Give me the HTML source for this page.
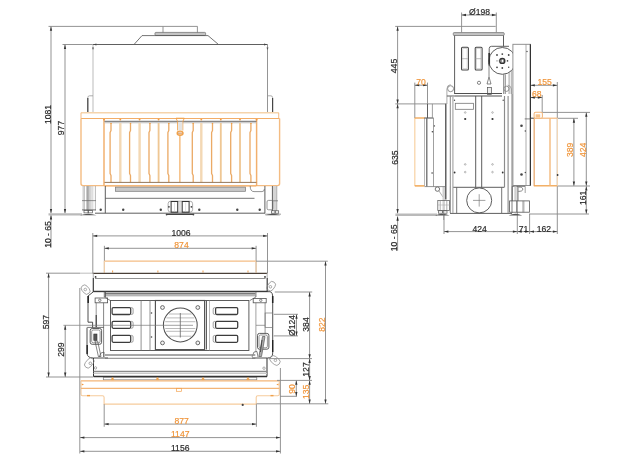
<!DOCTYPE html>
<html><head><meta charset="utf-8"><style>
html,body{margin:0;padding:0;background:#fff;}
svg{display:block;}
text{font-family:"Liberation Sans",sans-serif;}
svg{will-change:transform;}
</style></head><body>
<svg width="624" height="460" viewBox="0 0 624 460">
<rect width="624" height="460" fill="#fff"/>
<line x1="48.5" y1="26.4" x2="197.5" y2="26.4" stroke="#8a8a8a" stroke-width="0.92" />
<line x1="51" y1="26.4" x2="51" y2="213.3" stroke="#8a8a8a" stroke-width="0.92" />
<polygon points="51,26.4 49.85,30.799999999999997 52.15,30.799999999999997" fill="#333"/>
<polygon points="51,213.3 49.85,208.9 52.15,208.9" fill="#333"/>
<line x1="51" y1="215" x2="51" y2="247.7" stroke="#8a8a8a" stroke-width="0.92" />
<polygon points="51,215 49.85,219.4 52.15,219.4" fill="#2a2a2a"/>
<text x="0" y="0" transform="translate(47.6,114.5) rotate(-90) scale(1,1.07)" fill="#2a2a2a" stroke="#2a2a2a" stroke-width="0.18" font-size="8.6" text-anchor="middle" dominant-baseline="central">1081</text>
<line x1="62.5" y1="44.5" x2="93" y2="44.5" stroke="#8a8a8a" stroke-width="0.92" />
<line x1="65" y1="44.5" x2="65" y2="213.3" stroke="#8a8a8a" stroke-width="0.92" />
<polygon points="65,44.5 63.85,48.9 66.15,48.9" fill="#333"/>
<polygon points="65,213.3 63.85,208.9 66.15,208.9" fill="#333"/>
<text x="0" y="0" transform="translate(61.2,128) rotate(-90) scale(1,1.07)" fill="#2a2a2a" stroke="#2a2a2a" stroke-width="0.18" font-size="8.6" text-anchor="middle" dominant-baseline="central">977</text>
<text x="0" y="0" transform="translate(48,234.5) rotate(-90) scale(1,1.07)" fill="#2a2a2a" stroke="#2a2a2a" stroke-width="0.18" font-size="8.6" text-anchor="middle" dominant-baseline="central">10 - 65</text>
<line x1="163" y1="26.4" x2="163" y2="33" stroke="#8a8a8a" stroke-width="0.92" />
<line x1="197.4" y1="26.4" x2="197.4" y2="33" stroke="#8a8a8a" stroke-width="0.92" />
<rect x="155" y="32.4" width="50.6" height="3.1" stroke="#777" stroke-width="0.80" fill="#c4c4c4" rx="0.8"/>
<polyline points="134,44.5 142,35.6 208,35.6 218.5,44.5" stroke="#505050" stroke-width="0.80" fill="none" stroke-linejoin="round"/>
<line x1="93" y1="44.5" x2="93" y2="112.5" stroke="#c4c4c4" stroke-width="1.15" />
<line x1="267.5" y1="44.5" x2="267.5" y2="112.5" stroke="#959595" stroke-width="1.03" />
<line x1="93" y1="44.5" x2="267.5" y2="44.5" stroke="#606060" stroke-width="1.03" />
<polygon points="93.4,44.5 96.4,43.4 96.4,45.6" fill="#444"/>
<polygon points="267.1,44.5 264.1,43.4 264.1,45.6" fill="#444"/>
<polygon points="93,50 92,47.5 94,47.5" fill="#555"/>
<polygon points="267.5,50 266.5,47.5 268.5,47.5" fill="#555"/>
<path d="M93,95.8 H89.6 Q87.8,95.8 87.8,97.6 V112.5" stroke="#999" stroke-width="0.8" fill="none"/>
<line x1="87.8" y1="98" x2="87.8" y2="112.5" stroke="#444" stroke-width="1.15" />
<path d="M267.5,95.8 H270.8 Q272.6,95.8 272.6,97.6 V112.5" stroke="#999" stroke-width="0.8" fill="none"/>
<line x1="272.6" y1="98" x2="272.6" y2="112.5" stroke="#444" stroke-width="1.15" />
<line x1="81" y1="112.8" x2="278.7" y2="112.8" stroke="#f5d4ac" stroke-width="1.61" />
<line x1="81" y1="112.8" x2="81" y2="118.6" stroke="#f5be88" stroke-width="1.03" />
<line x1="278.7" y1="112.8" x2="278.7" y2="118.6" stroke="#f5be88" stroke-width="1.03" />
<line x1="81" y1="118.5" x2="279.6" y2="118.5" stroke="#f2ad68" stroke-width="1.15" />
<path d="M81,118.6 V183.5 Q81,185.6 83,185.6 H104.0" stroke="#f4bc82" stroke-width="1.4" fill="none"/>
<path d="M279.6,118.6 V183.5 Q279.6,185.6 277.6,185.6 H256.6" stroke="#f4bc82" stroke-width="1.4" fill="none"/>
<line x1="104.0" y1="118.6" x2="104.0" y2="186" stroke="#f2b06e" stroke-width="1.49" />
<line x1="256.6" y1="118.6" x2="256.6" y2="186" stroke="#f2b06e" stroke-width="1.49" />
<line x1="104.5" y1="121.3" x2="256.4" y2="121.3" stroke="#5a5a5a" stroke-width="0.92" />
<line x1="104.5" y1="122.7" x2="256.4" y2="122.7" stroke="#bdbdbd" stroke-width="1.03" />
<polyline points="111.0,123 111.0,130.5 110.1,132.5 110.1,173.5 111.0,175.5 111.0,182.3" stroke="#ebaa66" stroke-width="1.32" fill="none" stroke-linejoin="round"/>
<polyline points="130.5,123 130.5,130.5 129.6,132.5 129.6,173.5 130.5,175.5 130.5,182.3" stroke="#ebaa66" stroke-width="1.32" fill="none" stroke-linejoin="round"/>
<polyline points="149.9,123 149.9,130.5 149.0,132.5 149.0,173.5 149.9,175.5 149.9,182.3" stroke="#ebaa66" stroke-width="1.32" fill="none" stroke-linejoin="round"/>
<polyline points="168.8,123 168.8,130.5 167.9,132.5 167.9,173.5 168.8,175.5 168.8,182.3" stroke="#ebaa66" stroke-width="1.32" fill="none" stroke-linejoin="round"/>
<polyline points="193.20000000000002,123 193.20000000000002,130.5 192.3,132.5 192.3,173.5 193.20000000000002,175.5 193.20000000000002,182.3" stroke="#ebaa66" stroke-width="1.32" fill="none" stroke-linejoin="round"/>
<polyline points="212.5,123 212.5,130.5 211.6,132.5 211.6,173.5 212.5,175.5 212.5,182.3" stroke="#ebaa66" stroke-width="1.32" fill="none" stroke-linejoin="round"/>
<polyline points="231.6,123 231.6,130.5 230.7,132.5 230.7,173.5 231.6,175.5 231.6,182.3" stroke="#ebaa66" stroke-width="1.32" fill="none" stroke-linejoin="round"/>
<polyline points="250.9,123 250.9,130.5 250.0,132.5 250.0,173.5 250.9,175.5 250.9,182.3" stroke="#ebaa66" stroke-width="1.32" fill="none" stroke-linejoin="round"/>
<rect x="119.1" y="123" width="2.4" height="59.3" stroke="none" stroke-width="0.00" fill="#f3d8b4" rx="0"/>
<rect x="138.4" y="123" width="2.4" height="59.3" stroke="none" stroke-width="0.00" fill="#f3d8b4" rx="0"/>
<rect x="200.10000000000002" y="123" width="2.4" height="59.3" stroke="none" stroke-width="0.00" fill="#f3d8b4" rx="0"/>
<line x1="158.6" y1="123" x2="158.6" y2="182.3" stroke="#efc794" stroke-width="1.84" />
<line x1="220.8" y1="123" x2="220.8" y2="182.3" stroke="#efc794" stroke-width="1.84" />
<line x1="240.0" y1="123" x2="240.0" y2="182.3" stroke="#efc794" stroke-width="1.84" />
<circle cx="120.3" cy="119.6" r="0.95" fill="#f39a40"/>
<circle cx="139.6" cy="119.6" r="0.95" fill="#f39a40"/>
<circle cx="158.6" cy="119.6" r="0.95" fill="#f39a40"/>
<circle cx="201.3" cy="119.6" r="0.95" fill="#f39a40"/>
<circle cx="220.8" cy="119.6" r="0.95" fill="#f39a40"/>
<circle cx="240.0" cy="119.6" r="0.95" fill="#f39a40"/>
<circle cx="104.0" cy="119.6" r="0.95" fill="#f39a40"/>
<circle cx="256.6" cy="119.6" r="0.95" fill="#f39a40"/>
<circle cx="111.0" cy="123.4" r="0.7" fill="#f0a048"/>
<circle cx="130.5" cy="123.4" r="0.7" fill="#f0a048"/>
<circle cx="149.9" cy="123.4" r="0.7" fill="#f0a048"/>
<circle cx="168.8" cy="123.4" r="0.7" fill="#f0a048"/>
<circle cx="193.20000000000002" cy="123.4" r="0.7" fill="#f0a048"/>
<circle cx="212.5" cy="123.4" r="0.7" fill="#f0a048"/>
<circle cx="231.6" cy="123.4" r="0.7" fill="#f0a048"/>
<circle cx="250.9" cy="123.4" r="0.7" fill="#f0a048"/>
<line x1="179.9" y1="135" x2="179.9" y2="182.3" stroke="#f0a048" stroke-width="1.03" />
<path d="M176,118.2 L184.3,118.2 L182.8,121.5 L182.8,130.5 M176,118.2 L177.6,121.5 L177.6,130.5" stroke="#f0a048" stroke-width="0.9" fill="none"/>
<rect x="178.2" y="121.8" width="4.2" height="8.5" fill="#e4e4e4"/>
<ellipse cx="180.1" cy="133.2" rx="2.9" ry="2.1" stroke="#f0a048" stroke-width="1.4" fill="#fbe3c8"/>
<line x1="178" y1="133.2" x2="182.2" y2="133.2" stroke="#c08050" stroke-width="0.69" />
<line x1="104.5" y1="182.4" x2="256.4" y2="182.4" stroke="#8a6a4a" stroke-width="0.92" />
<line x1="104.4" y1="185.9" x2="256.4" y2="185.9" stroke="#f3a24f" stroke-width="1.15" />
<rect x="115.4" y="187.1" width="130.2" height="4.2" stroke="#777" stroke-width="0.69" fill="#c8c8c8" rx="0"/>
<line x1="105.3" y1="186" x2="105.3" y2="213.2" stroke="#505050" stroke-width="0.92" />
<line x1="264.9" y1="186" x2="264.9" y2="213.2" stroke="#505050" stroke-width="0.92" />
<line x1="105.3" y1="198.3" x2="254.5" y2="198.3" stroke="#505050" stroke-width="0.80" />
<line x1="95" y1="213.2" x2="265" y2="213.2" stroke="#505050" stroke-width="0.92" />
<line x1="48.5" y1="214.4" x2="82" y2="214.4" stroke="#bababa" stroke-width="2.30" />
<line x1="265" y1="214.2" x2="281" y2="214.2" stroke="#aaa" stroke-width="1.15" />
<circle cx="100.7" cy="209.7" r="1.2" fill="#444"/>
<circle cx="123.2" cy="209.7" r="1.2" fill="#444"/>
<circle cx="160.8" cy="209.7" r="1.2" fill="#444"/>
<circle cx="199.3" cy="209.7" r="1.2" fill="#444"/>
<circle cx="237.3" cy="209.7" r="1.2" fill="#444"/>
<circle cx="259.7" cy="209.7" r="1.2" fill="#444"/>
<rect x="168.1" y="201.2" width="24.5" height="11" stroke="#999" stroke-width="0.80" fill="none" rx="2.5"/>
<rect x="171.1" y="201.5" width="6.6" height="10.7" stroke="#333" stroke-width="1.03" fill="none" rx="0"/>
<rect x="182.2" y="201.5" width="6.9" height="10.7" stroke="#333" stroke-width="1.03" fill="none" rx="0"/>
<line x1="179" y1="201.5" x2="179" y2="212.2" stroke="#aaa" stroke-width="0.69" />
<line x1="181" y1="201.5" x2="181" y2="212.2" stroke="#aaa" stroke-width="0.69" />
<line x1="174.5" y1="202.5" x2="174.5" y2="211.5" stroke="#ccc" stroke-width="0.57" />
<line x1="185.6" y1="202.5" x2="185.6" y2="211.5" stroke="#ccc" stroke-width="0.57" />
<circle cx="168.9" cy="206.8" r="0.9" fill="#444"/>
<circle cx="191.4" cy="206.8" r="0.9" fill="#444"/>
<line x1="166" y1="214.4" x2="194" y2="214.4" stroke="#444" stroke-width="1.15" />
<circle cx="166.6" cy="214.6" r="0.9" fill="#444"/>
<circle cx="193.4" cy="214.6" r="0.9" fill="#444"/>
<rect x="86.9" y="186" width="1.8" height="24.5" stroke="none" stroke-width="0.00" fill="#cfcfcf" rx="0"/>
<line x1="83.1" y1="186" x2="83.1" y2="210.5" stroke="#aaa" stroke-width="0.69" />
<line x1="84.3" y1="186" x2="84.3" y2="210.5" stroke="#999" stroke-width="0.69" />
<line x1="86.9" y1="186" x2="86.9" y2="210.5" stroke="#888" stroke-width="0.69" />
<line x1="88.1" y1="186" x2="88.1" y2="210.5" stroke="#777" stroke-width="0.69" />
<line x1="89.8" y1="186" x2="89.8" y2="210.5" stroke="#999" stroke-width="0.69" />
<line x1="91.0" y1="186" x2="91.0" y2="210.5" stroke="#aaa" stroke-width="0.69" />
<line x1="92.8" y1="186" x2="92.8" y2="210.5" stroke="#bbb" stroke-width="0.69" />
<line x1="95.4" y1="186" x2="95.4" y2="210.5" stroke="#999" stroke-width="0.69" />
<line x1="82" y1="200.6" x2="96" y2="200.6" stroke="#666" stroke-width="0.69" />
<line x1="82" y1="209.9" x2="96" y2="209.9" stroke="#555" stroke-width="0.80" />
<rect x="84" y="210.5" width="4" height="2.4" stroke="#555" stroke-width="0.69" fill="none" rx="0"/>
<rect x="88.6" y="210.5" width="4" height="2.4" stroke="#555" stroke-width="0.69" fill="none" rx="0"/>
<path d="M80,215.3 Q88,212 96.5,215.3 Z" fill="#555"/>
<path d="M250.2,186 Q250.2,191.6 254,191.6 H262 Q264.4,191.6 264.4,189" stroke="#666" stroke-width="0.7" fill="none"/>
<rect x="272.4" y="186" width="4.4" height="25" stroke="none" stroke-width="0.00" fill="#d4d4d4" rx="0"/>
<line x1="272.4" y1="186" x2="272.4" y2="211" stroke="#555" stroke-width="0.92" />
<line x1="276.8" y1="186" x2="276.8" y2="211" stroke="#999" stroke-width="0.69" />
<line x1="272" y1="200.8" x2="278" y2="200.8" stroke="#666" stroke-width="0.69" />
<rect x="267" y="200.4" width="5.8" height="9.4" stroke="#666" stroke-width="0.69" fill="none" rx="1.5"/>
<rect x="271.5" y="210.8" width="3.5" height="2.4" stroke="#555" stroke-width="0.69" fill="none" rx="0"/>
<rect x="275.2" y="210.8" width="3.5" height="2.4" stroke="#555" stroke-width="0.69" fill="none" rx="0"/>
<path d="M265,215.3 Q272.6,212 280.3,215.3 Z" fill="#555"/>
<line x1="92.8" y1="233" x2="92.8" y2="273.3" stroke="#8a8a8a" stroke-width="0.92" />
<line x1="267.5" y1="233" x2="267.5" y2="273.3" stroke="#8a8a8a" stroke-width="0.92" />
<line x1="92.8" y1="235.9" x2="267.5" y2="235.9" stroke="#8a8a8a" stroke-width="0.92" />
<polygon points="92.8,235.9 97.2,234.75 97.2,237.05" fill="#333"/>
<polygon points="267.5,235.9 263.1,234.75 263.1,237.05" fill="#333"/>
<text x="0" y="0" transform="translate(181,232.6) scale(1,1.07)" fill="#2a2a2a" stroke="#2a2a2a" stroke-width="0.18" font-size="8.6" text-anchor="middle" dominant-baseline="central">1006</text>
<line x1="104.4" y1="245.8" x2="104.4" y2="272" stroke="#8a8a8a" stroke-width="0.92" />
<line x1="256.1" y1="245.8" x2="256.1" y2="272" stroke="#8a8a8a" stroke-width="0.92" />
<line x1="104.4" y1="248.3" x2="256.1" y2="248.3" stroke="#8a8a8a" stroke-width="0.92" />
<polygon points="104.4,248.3 108.80000000000001,247.15 108.80000000000001,249.45000000000002" fill="#333"/>
<polygon points="256.1,248.3 251.70000000000002,247.15 251.70000000000002,249.45000000000002" fill="#333"/>
<text x="0" y="0" transform="translate(181.5,244.5) scale(1,1.07)" fill="#f0953a" stroke="#f0953a" stroke-width="0.18" font-size="8.6" text-anchor="middle" dominant-baseline="central">874</text>
<line x1="104.3" y1="261.1" x2="256.1" y2="261.1" stroke="#f4bd85" stroke-width="1.15" />
<line x1="104.3" y1="261.1" x2="104.3" y2="273" stroke="#f8d4ac" stroke-width="1.15" />
<line x1="256.1" y1="261.1" x2="256.1" y2="273" stroke="#f8d4ac" stroke-width="1.15" />
<line x1="112.6" y1="270.5" x2="112.6" y2="272.5" stroke="#f3a24f" stroke-width="1.03" />
<line x1="157.9" y1="270.5" x2="157.9" y2="272.5" stroke="#f3a24f" stroke-width="1.03" />
<line x1="203" y1="270.5" x2="203" y2="272.5" stroke="#f3a24f" stroke-width="1.03" />
<line x1="248" y1="270.5" x2="248" y2="272.5" stroke="#f3a24f" stroke-width="1.03" />
<line x1="256.1" y1="261.2" x2="327.8" y2="261.2" stroke="#8a8a8a" stroke-width="0.92" />
<line x1="80" y1="273.2" x2="93" y2="273.2" stroke="#b8b8b8" stroke-width="0.92" />
<line x1="46" y1="273.2" x2="80" y2="273.2" stroke="#8a8a8a" stroke-width="0.92" />
<line x1="92.8" y1="273.4" x2="267.3" y2="273.4" stroke="#4a4038" stroke-width="1.15" />
<line x1="95" y1="278.5" x2="265.5" y2="278.5" stroke="#888" stroke-width="0.92" />
<circle cx="95.6" cy="276.9" r="0.9" fill="#333"/>
<circle cx="265" cy="276.9" r="0.9" fill="#333"/>
<line x1="93.3" y1="273.4" x2="93.3" y2="278" stroke="#bbb" stroke-width="1.15" />
<line x1="93.3" y1="278" x2="93.3" y2="292" stroke="#333" stroke-width="1.15" />
<line x1="267.2" y1="273.4" x2="267.2" y2="278" stroke="#bbb" stroke-width="1.15" />
<line x1="267.2" y1="278" x2="267.2" y2="292" stroke="#333" stroke-width="1.15" />
<line x1="93.5" y1="291.4" x2="267" y2="291.4" stroke="#3a3a3a" stroke-width="1.26" />
<line x1="105" y1="293.2" x2="255.3" y2="293.2" stroke="#7a7a7a" stroke-width="1.38" />
<line x1="105" y1="294.7" x2="255.3" y2="294.7" stroke="#b4b4b4" stroke-width="1.26" />
<line x1="105" y1="295.8" x2="255.3" y2="295.8" stroke="#888" stroke-width="0.80" />
<path d="M93.5,291.7 H105.4 M93.5,291.7 L88,296 V322.2 H92.6 V327.6 M87,327.6 V353.5 Q87.5,358 93.3,358 H108" stroke="#3a3a3a" stroke-width="0.9" fill="none"/>
<line x1="105.4" y1="291.7" x2="105.4" y2="297" stroke="#555" stroke-width="0.92" />
<line x1="88.2" y1="296" x2="88.2" y2="303" stroke="#222" stroke-width="1.49" />
<line x1="87.2" y1="345" x2="87.2" y2="354" stroke="#222" stroke-width="1.38" />
<line x1="104.3" y1="291.7" x2="104.3" y2="297" stroke="#505050" stroke-width="0.80" />
<line x1="104.3" y1="297" x2="110.3" y2="300.5" stroke="#505050" stroke-width="0.69" />
<rect x="95.1" y="298" width="12.5" height="4.8" stroke="#505050" stroke-width="0.80" fill="none" rx="0"/>
<circle cx="99.8" cy="300.3" r="1.2" stroke="#505050" stroke-width="0.69" fill="none"/>
<line x1="96.2" y1="302.8" x2="96.2" y2="327.4" stroke="#666" stroke-width="0.69" />
<line x1="96.2" y1="315" x2="96.2" y2="327" stroke="#333" stroke-width="1.03" />
<line x1="103.6" y1="302.8" x2="103.6" y2="357" stroke="#666" stroke-width="0.80" />
<line x1="87.2" y1="327.4" x2="103.8" y2="327.4" stroke="#505050" stroke-width="0.80" />
<rect x="90.2" y="328.5" width="11.4" height="15.8" stroke="#505050" stroke-width="0.92" fill="none" rx="2"/>
<rect x="91.7" y="330" width="8.4" height="12.8" stroke="#666" stroke-width="0.69" fill="none" rx="1.5"/>
<rect x="93.8" y="334" width="3.2" height="6.5" stroke="#333" stroke-width="0.57" fill="#555" rx="0"/>
<polygon points="95,341 97.6,341 101,356.5 98.4,356.5" stroke="#505050" stroke-width="0.69" fill="none" stroke-linejoin="round"/>
<polyline points="99,357 101,353 104,352 104,357" stroke="#505050" stroke-width="0.69" fill="none" stroke-linejoin="round"/>
<line x1="93.5" y1="358" x2="93.5" y2="376.5" stroke="#333" stroke-width="1.03" />
<circle cx="95.5" cy="367.9" r="1.2" stroke="#888" stroke-width="0.69" fill="none"/>
<g transform="translate(85.6,289.6) rotate(-40)"><rect x="-3.3" y="-5" width="6.6" height="10" rx="3.3" stroke="#888" stroke-width="0.7" fill="none"/></g>
<circle cx="85.3" cy="289.5" r="1.3" stroke="#888" stroke-width="0.69" fill="none"/>
<g transform="translate(89.3,363) rotate(40)"><rect x="-3.3" y="-5.5" width="6.6" height="11" rx="3.3" stroke="#888" stroke-width="0.7" fill="none"/></g>
<circle cx="90.3" cy="363.3" r="1.3" stroke="#888" stroke-width="0.69" fill="none"/>
<path d="M267.3,291.7 H255.9 M267.3,291.7 H270 Q272.7,292 272.7,297.4 V353 Q272.7,358 267.5,358 H252" stroke="#3a3a3a" stroke-width="0.9" fill="none"/>
<line x1="272.7" y1="296" x2="272.7" y2="303" stroke="#222" stroke-width="1.49" />
<line x1="272.7" y1="340" x2="272.7" y2="352" stroke="#222" stroke-width="1.38" />
<line x1="255.9" y1="291.7" x2="255.9" y2="297" stroke="#505050" stroke-width="0.80" />
<line x1="255.9" y1="297" x2="249.9" y2="300.5" stroke="#505050" stroke-width="0.69" />
<rect x="253.2" y="298.5" width="13" height="4.3" stroke="#505050" stroke-width="0.80" fill="none" rx="0"/>
<circle cx="260.8" cy="300.3" r="1.2" stroke="#505050" stroke-width="0.69" fill="none"/>
<line x1="255.9" y1="302.8" x2="255.9" y2="352" stroke="#777" stroke-width="0.69" />
<line x1="265.1" y1="302.8" x2="265.1" y2="333.4" stroke="#666" stroke-width="0.69" />
<rect x="265.1" y="313" width="7.6" height="14.4" stroke="#777" stroke-width="0.69" fill="none" rx="0"/>
<line x1="256" y1="325.3" x2="265" y2="325.3" stroke="#777" stroke-width="0.69" />
<rect x="257.5" y="333.4" width="11.4" height="15.8" stroke="#505050" stroke-width="0.92" fill="none" rx="2"/>
<rect x="259" y="335" width="8.4" height="12.8" stroke="#666" stroke-width="0.69" fill="none" rx="1.5"/>
<polygon points="262.5,336.5 265,336.5 261.5,356.5 258.9,356.5" stroke="#555" stroke-width="0.69" fill="#b0b0b0" stroke-linejoin="round"/>
<line x1="262" y1="340" x2="260.5" y2="352" stroke="#444" stroke-width="0.92" />
<polyline points="252,357 254,352 257,351.5 258,357" stroke="#505050" stroke-width="0.69" fill="none" stroke-linejoin="round"/>
<line x1="267" y1="358" x2="267" y2="376.5" stroke="#333" stroke-width="1.03" />
<circle cx="264" cy="368.2" r="1.2" stroke="#888" stroke-width="0.69" fill="none"/>
<g transform="translate(271.2,286.2) rotate(35)"><rect x="-3.3" y="-5" width="6.6" height="10" rx="3.3" stroke="#888" stroke-width="0.7" fill="none"/></g>
<circle cx="270.4" cy="286.8" r="1.3" stroke="#888" stroke-width="0.69" fill="none"/>
<g transform="translate(275,360.5) rotate(-50)"><rect x="-3.5" y="-5.5" width="7" height="11" rx="3.5" stroke="#888" stroke-width="0.7" fill="none"/></g>
<circle cx="275.4" cy="360.3" r="1.3" stroke="#888" stroke-width="0.69" fill="none"/>
<rect x="110.5" y="300.5" width="138.4" height="50" stroke="#505050" stroke-width="0.92" fill="none" rx="0"/>
<rect x="112.1" y="307.6" width="18.6" height="6.9" stroke="#3c3c3c" stroke-width="1.26" fill="none" rx="1.2"/>
<path d="M130.7,307.6 H131.6 Q133.1,307.6 133.1,309.1 V313.0 Q133.1,314.5 131.6,314.5 H130.7" stroke="#888" stroke-width="0.8" fill="none"/>
<rect x="215.6" y="307.6" width="22.1" height="6.9" stroke="#3c3c3c" stroke-width="1.26" fill="none" rx="1.2"/>
<path d="M215.6,307.6 H214.7 Q213.2,307.6 213.2,309.1 V313.0 Q213.2,314.5 214.7,314.5 H215.6" stroke="#888" stroke-width="0.8" fill="none"/>
<rect x="112.1" y="321.4" width="18.6" height="6.9" stroke="#3c3c3c" stroke-width="1.26" fill="none" rx="1.2"/>
<path d="M130.7,321.4 H131.6 Q133.1,321.4 133.1,322.9 V326.79999999999995 Q133.1,328.29999999999995 131.6,328.29999999999995 H130.7" stroke="#888" stroke-width="0.8" fill="none"/>
<rect x="215.6" y="321.4" width="22.1" height="6.9" stroke="#3c3c3c" stroke-width="1.26" fill="none" rx="1.2"/>
<path d="M215.6,321.4 H214.7 Q213.2,321.4 213.2,322.9 V326.79999999999995 Q213.2,328.29999999999995 214.7,328.29999999999995 H215.6" stroke="#888" stroke-width="0.8" fill="none"/>
<rect x="112.1" y="335.4" width="18.6" height="6.9" stroke="#3c3c3c" stroke-width="1.26" fill="none" rx="1.2"/>
<path d="M130.7,335.4 H131.6 Q133.1,335.4 133.1,336.9 V340.79999999999995 Q133.1,342.29999999999995 131.6,342.29999999999995 H130.7" stroke="#888" stroke-width="0.8" fill="none"/>
<rect x="215.6" y="335.4" width="22.1" height="6.9" stroke="#3c3c3c" stroke-width="1.26" fill="none" rx="1.2"/>
<path d="M215.6,335.4 H214.7 Q213.2,335.4 213.2,336.9 V340.79999999999995 Q213.2,342.29999999999995 214.7,342.29999999999995 H215.6" stroke="#888" stroke-width="0.8" fill="none"/>
<line x1="141.1" y1="300.5" x2="141.1" y2="350.5" stroke="#777" stroke-width="0.80" />
<line x1="150" y1="300.5" x2="150" y2="350.5" stroke="#777" stroke-width="0.80" />
<circle cx="151.5" cy="313" r="0.8" fill="#444"/>
<circle cx="151.5" cy="337" r="0.8" fill="#444"/>
<rect x="155.4" y="300.5" width="49.2" height="49.1" stroke="#505050" stroke-width="1.15" fill="none" rx="0"/>
<line x1="206.4" y1="300.5" x2="206.4" y2="349.6" stroke="#505050" stroke-width="1.03" />
<line x1="209.5" y1="300.5" x2="209.5" y2="350.5" stroke="#999" stroke-width="0.69" />
<circle cx="180.3" cy="325" r="16.9" stroke="#505050" stroke-width="1.03" fill="none"/>
<line x1="168.96995713179416" y1="314" x2="191.63004286820586" y2="314" stroke="#aaa" stroke-width="0.80" />
<line x1="166.46376838985537" y1="317.9" x2="194.13623161014465" y2="317.9" stroke="#aaa" stroke-width="0.80" />
<line x1="165.2253205159195" y1="321.7" x2="195.37467948408053" y2="321.7" stroke="#aaa" stroke-width="0.80" />
<line x1="165.2663978516477" y1="328.5" x2="195.33360214835233" y2="328.5" stroke="#aaa" stroke-width="0.80" />
<line x1="166.1181633728699" y1="331.3" x2="194.48183662713012" y2="331.3" stroke="#aaa" stroke-width="0.80" />
<line x1="169.1441713033085" y1="336.2" x2="191.45582869669153" y2="336.2" stroke="#aaa" stroke-width="0.80" />
<line x1="180.3" y1="313" x2="180.3" y2="337.5" stroke="#666" stroke-width="0.80" />
<circle cx="162.5" cy="307.5" r="1.9" stroke="#555" stroke-width="0.86" fill="#f4f4f4"/>
<circle cx="197.8" cy="307.5" r="1.9" stroke="#555" stroke-width="0.86" fill="#f4f4f4"/>
<circle cx="162.5" cy="342.9" r="1.9" stroke="#555" stroke-width="0.86" fill="#f4f4f4"/>
<circle cx="197.8" cy="342.9" r="1.9" stroke="#555" stroke-width="0.86" fill="#f4f4f4"/>
<line x1="63.4" y1="325.3" x2="193" y2="325.3" stroke="#777" stroke-width="0.69" />
<line x1="105" y1="355.0" x2="255.3" y2="355.0" stroke="#8a8a8a" stroke-width="1.61" />
<line x1="105" y1="358.3" x2="255.3" y2="358.3" stroke="#777" stroke-width="0.92" />
<line x1="93.5" y1="371.6" x2="267" y2="371.6" stroke="#8a8a8a" stroke-width="1.49" />
<line x1="93.5" y1="373.4" x2="267" y2="373.4" stroke="#c8c8c8" stroke-width="1.03" />
<line x1="93.5" y1="376.5" x2="267" y2="376.5" stroke="#333" stroke-width="1.26" />
<line x1="46" y1="377" x2="93" y2="377" stroke="#8a8a8a" stroke-width="0.92" />
<rect x="103.3" y="377.4" width="153.5" height="2.4" stroke="#777" stroke-width="0.69" fill="none" rx="0"/>
<line x1="81" y1="380.8" x2="279.3" y2="380.8" stroke="#f3b577" stroke-width="1.26" />
<path d="M81,380.8 V394.2 Q81,395.8 82.6,395.8 H102.5 Q104.1,395.8 104.1,397.4 V404.1 H256.2 V397.4 Q256.2,395.8 257.8,395.8 H277.7 Q279.3,395.8 279.3,394.2 V380.8" stroke="#f6cb9c" stroke-width="1.1" fill="none"/>
<line x1="81" y1="388.4" x2="279.3" y2="388.4" stroke="#f3b577" stroke-width="1.26" />
<polygon points="84,384.5 81.8,383.4 81.8,385.6" fill="#f39a40"/>
<polygon points="276.3,384.5 278.5,383.4 278.5,385.6" fill="#f39a40"/>
<line x1="87" y1="395.6" x2="90" y2="395.6" stroke="#f0a048" stroke-width="1.38" />
<line x1="270.5" y1="395.6" x2="273.5" y2="395.6" stroke="#f0a048" stroke-width="1.38" />
<rect x="176.5" y="388.3" width="5" height="3" stroke="#f3a24f" stroke-width="0.69" fill="none" rx="0"/>
<polygon points="111.2,379.6 112.5,377.4 113.8,379.6" stroke="#f0a048" stroke-width="0.69" fill="#f0a048" stroke-linejoin="round"/>
<polygon points="156.2,379.6 157.5,377.4 158.8,379.6" stroke="#f0a048" stroke-width="0.69" fill="#f0a048" stroke-linejoin="round"/>
<polygon points="201.7,379.6 203,377.4 204.3,379.6" stroke="#f0a048" stroke-width="0.69" fill="#f0a048" stroke-linejoin="round"/>
<polygon points="246.7,379.6 248,377.4 249.3,379.6" stroke="#f0a048" stroke-width="0.69" fill="#f0a048" stroke-linejoin="round"/>
<circle cx="242.7" cy="404.9" r="1.1" fill="#444"/>
<line x1="48.6" y1="273.2" x2="48.6" y2="377" stroke="#8a8a8a" stroke-width="0.92" />
<polygon points="48.6,273.2 47.45,277.59999999999997 49.75,277.59999999999997" fill="#333"/>
<polygon points="48.6,377 47.45,372.6 49.75,372.6" fill="#333"/>
<text x="0" y="0" transform="translate(45.6,322.2) rotate(-90) scale(1,1.07)" fill="#2a2a2a" stroke="#2a2a2a" stroke-width="0.18" font-size="8.6" text-anchor="middle" dominant-baseline="central">597</text>
<line x1="65.2" y1="325.3" x2="65.2" y2="377" stroke="#8a8a8a" stroke-width="0.92" />
<polygon points="65.2,325.3 64.05,329.7 66.35000000000001,329.7" fill="#333"/>
<polygon points="65.2,377 64.05,372.6 66.35000000000001,372.6" fill="#333"/>
<text x="0" y="0" transform="translate(61.3,349.6) rotate(-90) scale(1,1.07)" fill="#2a2a2a" stroke="#2a2a2a" stroke-width="0.18" font-size="8.6" text-anchor="middle" dominant-baseline="central">299</text>
<line x1="79.8" y1="288" x2="79.8" y2="453.5" stroke="#8a8a8a" stroke-width="0.92" />
<line x1="280.4" y1="368" x2="280.4" y2="453.5" stroke="#8a8a8a" stroke-width="0.92" />
<line x1="104.2" y1="404.2" x2="104.2" y2="426.8" stroke="#8a8a8a" stroke-width="0.92" />
<line x1="256.4" y1="404.2" x2="256.4" y2="426.8" stroke="#8a8a8a" stroke-width="0.92" />
<line x1="104.2" y1="424.1" x2="256.4" y2="424.1" stroke="#8a8a8a" stroke-width="0.92" />
<polygon points="104.2,424.1 108.60000000000001,422.95000000000005 108.60000000000001,425.25" fill="#333"/>
<polygon points="256.4,424.1 251.99999999999997,422.95000000000005 251.99999999999997,425.25" fill="#333"/>
<text x="0" y="0" transform="translate(181.6,420.5) scale(1,1.07)" fill="#f0953a" stroke="#f0953a" stroke-width="0.18" font-size="8.6" text-anchor="middle" dominant-baseline="central">877</text>
<line x1="80" y1="437.6" x2="280.4" y2="437.6" stroke="#8a8a8a" stroke-width="0.92" />
<polygon points="80,437.6 84.4,436.45000000000005 84.4,438.75" fill="#333"/>
<polygon points="280.4,437.6 276.0,436.45000000000005 276.0,438.75" fill="#333"/>
<text x="0" y="0" transform="translate(180.2,433.7) scale(1,1.07)" fill="#f0953a" stroke="#f0953a" stroke-width="0.18" font-size="8.6" text-anchor="middle" dominant-baseline="central">1147</text>
<line x1="80" y1="451.3" x2="280.4" y2="451.3" stroke="#8a8a8a" stroke-width="0.92" />
<polygon points="80,451.3 84.4,450.15000000000003 84.4,452.45" fill="#333"/>
<polygon points="280.4,451.3 276.0,450.15000000000003 276.0,452.45" fill="#333"/>
<text x="0" y="0" transform="translate(180.2,447.6) scale(1,1.07)" fill="#2a2a2a" stroke="#2a2a2a" stroke-width="0.18" font-size="8.6" text-anchor="middle" dominant-baseline="central">1156</text>
<line x1="274.8" y1="292" x2="312.2" y2="292" stroke="#8a8a8a" stroke-width="0.92" />
<line x1="273.7" y1="314.3" x2="298" y2="314.3" stroke="#8a8a8a" stroke-width="0.92" />
<line x1="273.7" y1="335.9" x2="298" y2="335.9" stroke="#8a8a8a" stroke-width="0.92" />
<line x1="268.7" y1="358.6" x2="312" y2="358.6" stroke="#8a8a8a" stroke-width="0.92" />
<line x1="277" y1="380.4" x2="312" y2="380.4" stroke="#8a8a8a" stroke-width="0.92" />
<line x1="280" y1="396.3" x2="297" y2="396.3" stroke="#8a8a8a" stroke-width="0.92" />
<line x1="256.4" y1="403.8" x2="328.3" y2="403.8" stroke="#8a8a8a" stroke-width="0.92" />
<line x1="296.5" y1="314.3" x2="296.5" y2="335.9" stroke="#8a8a8a" stroke-width="0.92" />
<polygon points="296.5,314.3 295.35,318.7 297.65,318.7" fill="#333"/>
<polygon points="296.5,335.9 295.35,331.5 297.65,331.5" fill="#333"/>
<text x="0" y="0" transform="translate(292.4,325.5) rotate(-90) scale(1,1.07)" fill="#2a2a2a" stroke="#2a2a2a" stroke-width="0.18" font-size="8.6" text-anchor="middle" dominant-baseline="central">Ø124</text>
<line x1="309.6" y1="292" x2="309.6" y2="358.6" stroke="#8a8a8a" stroke-width="0.92" />
<polygon points="309.6,292 308.45000000000005,296.4 310.75,296.4" fill="#333"/>
<polygon points="309.6,358.6 308.45000000000005,354.20000000000005 310.75,354.20000000000005" fill="#333"/>
<text x="0" y="0" transform="translate(305.6,324.5) rotate(-90) scale(1,1.07)" fill="#2a2a2a" stroke="#2a2a2a" stroke-width="0.18" font-size="8.6" text-anchor="middle" dominant-baseline="central">384</text>
<line x1="325.5" y1="261.2" x2="325.5" y2="403.8" stroke="#8a8a8a" stroke-width="0.92" />
<polygon points="325.5,261.2 324.35,265.59999999999997 326.65,265.59999999999997" fill="#333"/>
<polygon points="325.5,403.8 324.35,399.40000000000003 326.65,399.40000000000003" fill="#333"/>
<text x="0" y="0" transform="translate(321.8,324.6) rotate(-90) scale(1,1.07)" fill="#f0953a" stroke="#f0953a" stroke-width="0.18" font-size="8.6" text-anchor="middle" dominant-baseline="central">822</text>
<line x1="309.6" y1="358.6" x2="309.6" y2="380.4" stroke="#8a8a8a" stroke-width="0.92" />
<polygon points="309.6,358.6 308.45000000000005,363.0 310.75,363.0" fill="#333"/>
<polygon points="309.6,380.4 308.45000000000005,376.0 310.75,376.0" fill="#333"/>
<text x="0" y="0" transform="translate(305.9,369.5) rotate(-90) scale(1,1.07)" fill="#2a2a2a" stroke="#2a2a2a" stroke-width="0.18" font-size="8.6" text-anchor="middle" dominant-baseline="central">127</text>
<line x1="296.3" y1="380.4" x2="296.3" y2="396.3" stroke="#8a8a8a" stroke-width="0.92" />
<polygon points="296.3,380.4 295.15000000000003,384.79999999999995 297.45,384.79999999999995" fill="#333"/>
<polygon points="296.3,396.3 295.15000000000003,391.90000000000003 297.45,391.90000000000003" fill="#333"/>
<text x="0" y="0" transform="translate(292.4,389) rotate(-90) scale(1,1.07)" fill="#f0953a" stroke="#f0953a" stroke-width="0.18" font-size="8.6" text-anchor="middle" dominant-baseline="central">90</text>
<line x1="309.6" y1="380.4" x2="309.6" y2="403.8" stroke="#8a8a8a" stroke-width="0.92" />
<polygon points="309.6,380.4 308.45000000000005,384.79999999999995 310.75,384.79999999999995" fill="#333"/>
<polygon points="309.6,403.8 308.45000000000005,399.40000000000003 310.75,399.40000000000003" fill="#333"/>
<text x="0" y="0" transform="translate(305.9,391.8) rotate(-90) scale(1,1.07)" fill="#f0953a" stroke="#f0953a" stroke-width="0.18" font-size="8.6" text-anchor="middle" dominant-baseline="central">135</text>
<line x1="395.2" y1="26.4" x2="495.7" y2="26.4" stroke="#8a8a8a" stroke-width="0.92" />
<line x1="397.6" y1="26.4" x2="397.6" y2="103.9" stroke="#8a8a8a" stroke-width="0.92" />
<polygon points="397.6,26.4 396.45000000000005,30.799999999999997 398.75,30.799999999999997" fill="#333"/>
<polygon points="397.6,103.9 396.45000000000005,99.5 398.75,99.5" fill="#333"/>
<line x1="397.6" y1="103.9" x2="397.6" y2="213.4" stroke="#8a8a8a" stroke-width="0.92" />
<polygon points="397.6,103.9 396.45000000000005,108.30000000000001 398.75,108.30000000000001" fill="#333"/>
<polygon points="397.6,213.4 396.45000000000005,209.0 398.75,209.0" fill="#333"/>
<line x1="397.6" y1="216.5" x2="397.6" y2="250.7" stroke="#8a8a8a" stroke-width="0.92" />
<polygon points="397.6,216.3 396.45000000000005,220.70000000000002 398.75,220.70000000000002" fill="#2a2a2a"/>
<text x="0" y="0" transform="translate(393.5,66) rotate(-90) scale(1,1.07)" fill="#2a2a2a" stroke="#2a2a2a" stroke-width="0.18" font-size="8.6" text-anchor="middle" dominant-baseline="central">445</text>
<text x="0" y="0" transform="translate(394.7,157.6) rotate(-90) scale(1,1.07)" fill="#2a2a2a" stroke="#2a2a2a" stroke-width="0.18" font-size="8.6" text-anchor="middle" dominant-baseline="central">635</text>
<text x="0" y="0" transform="translate(393.7,237.8) rotate(-90) scale(1,1.07)" fill="#2a2a2a" stroke="#2a2a2a" stroke-width="0.18" font-size="8.6" text-anchor="middle" dominant-baseline="central">10 - 65</text>
<line x1="395.3" y1="103.9" x2="445.3" y2="103.9" stroke="#8a8a8a" stroke-width="0.92" />
<line x1="461.6" y1="12.5" x2="461.6" y2="32.5" stroke="#8a8a8a" stroke-width="0.92" />
<line x1="496.3" y1="12.5" x2="496.3" y2="32.5" stroke="#8a8a8a" stroke-width="0.92" />
<line x1="461.6" y1="15" x2="496.3" y2="15" stroke="#8a8a8a" stroke-width="0.92" />
<polygon points="461.6,15 466.0,13.85 466.0,16.15" fill="#333"/>
<polygon points="496.3,15 491.90000000000003,13.85 491.90000000000003,16.15" fill="#333"/>
<text x="0" y="0" transform="translate(479.5,11.9) scale(1,1.07)" fill="#2a2a2a" stroke="#2a2a2a" stroke-width="0.18" font-size="8.6" text-anchor="middle" dominant-baseline="central">Ø198</text>
<line x1="414.8" y1="82.6" x2="414.8" y2="118" stroke="#8a8a8a" stroke-width="0.92" />
<line x1="427.5" y1="82.6" x2="427.5" y2="103.9" stroke="#8a8a8a" stroke-width="0.92" />
<line x1="414.8" y1="85.2" x2="427.5" y2="85.2" stroke="#8a8a8a" stroke-width="0.92" />
<polygon points="414.8,85.2 419.2,84.05 419.2,86.35000000000001" fill="#333"/>
<polygon points="427.5,85.2 423.1,84.05 423.1,86.35000000000001" fill="#333"/>
<text x="0" y="0" transform="translate(421,81.6) scale(1,1.07)" fill="#f0953a" stroke="#f0953a" stroke-width="0.18" font-size="8.6" text-anchor="middle" dominant-baseline="central">70</text>
<line x1="557.3" y1="82" x2="557.3" y2="234" stroke="#8a8a8a" stroke-width="0.92" />
<line x1="530.4" y1="85.3" x2="557.3" y2="85.3" stroke="#8a8a8a" stroke-width="0.92" />
<polygon points="530.4,85.3 534.8,84.14999999999999 534.8,86.45" fill="#333"/>
<polygon points="557.3,85.3 552.9,84.14999999999999 552.9,86.45" fill="#333"/>
<text x="0" y="0" transform="translate(544.6,81.7) scale(1,1.07)" fill="#f0953a" stroke="#f0953a" stroke-width="0.18" font-size="8.6" text-anchor="middle" dominant-baseline="central">155</text>
<line x1="542.2" y1="95" x2="542.2" y2="112.4" stroke="#8a8a8a" stroke-width="0.92" />
<line x1="530.4" y1="97.5" x2="542.2" y2="97.5" stroke="#8a8a8a" stroke-width="0.92" />
<polygon points="530.4,97.5 534.8,96.35 534.8,98.65" fill="#333"/>
<polygon points="542.2,97.5 537.8000000000001,96.35 537.8000000000001,98.65" fill="#333"/>
<text x="0" y="0" transform="translate(536.7,94) scale(1,1.07)" fill="#f0953a" stroke="#f0953a" stroke-width="0.18" font-size="8.6" text-anchor="middle" dominant-baseline="central">68</text>
<line x1="542.2" y1="112.4" x2="590" y2="112.4" stroke="#8a8a8a" stroke-width="0.92" />
<line x1="558" y1="118.3" x2="578" y2="118.3" stroke="#8a8a8a" stroke-width="0.92" />
<line x1="558" y1="186" x2="590" y2="186" stroke="#8a8a8a" stroke-width="0.92" />
<line x1="573.9" y1="118.3" x2="573.9" y2="185.8" stroke="#8a8a8a" stroke-width="0.92" />
<polygon points="573.9,118.3 572.75,122.7 575.05,122.7" fill="#333"/>
<polygon points="573.9,185.8 572.75,181.4 575.05,181.4" fill="#333"/>
<text x="0" y="0" transform="translate(570.4,149.8) rotate(-90) scale(1,1.07)" fill="#f0953a" stroke="#f0953a" stroke-width="0.18" font-size="8.6" text-anchor="middle" dominant-baseline="central">389</text>
<line x1="586.3" y1="112.4" x2="586.3" y2="185.8" stroke="#8a8a8a" stroke-width="0.92" />
<polygon points="586.3,112.4 585.15,116.80000000000001 587.4499999999999,116.80000000000001" fill="#333"/>
<polygon points="586.3,185.8 585.15,181.4 587.4499999999999,181.4" fill="#333"/>
<text x="0" y="0" transform="translate(583,149.8) rotate(-90) scale(1,1.07)" fill="#f0953a" stroke="#f0953a" stroke-width="0.18" font-size="8.6" text-anchor="middle" dominant-baseline="central">424</text>
<line x1="586.3" y1="186.2" x2="586.3" y2="213.8" stroke="#8a8a8a" stroke-width="0.92" />
<polygon points="586.3,186.2 585.15,190.6 587.4499999999999,190.6" fill="#333"/>
<polygon points="586.3,213.8 585.15,209.4 587.4499999999999,209.4" fill="#333"/>
<text x="0" y="0" transform="translate(583.3,197.8) rotate(-90) scale(1,1.07)" fill="#2a2a2a" stroke="#2a2a2a" stroke-width="0.18" font-size="8.6" text-anchor="middle" dominant-baseline="central">161</text>
<line x1="395.4" y1="214.8" x2="437" y2="214.8" stroke="#bababa" stroke-width="2.42" />
<line x1="450" y1="213.4" x2="512" y2="213.4" stroke="#505050" stroke-width="0.92" />
<line x1="529" y1="214" x2="589" y2="214" stroke="#8a8a8a" stroke-width="0.92" />
<line x1="444" y1="214" x2="444" y2="234" stroke="#8a8a8a" stroke-width="0.92" />
<line x1="517.3" y1="186" x2="517.3" y2="234" stroke="#8a8a8a" stroke-width="0.92" />
<line x1="529.6" y1="214" x2="529.6" y2="234" stroke="#8a8a8a" stroke-width="0.92" />
<line x1="444" y1="231.6" x2="517.3" y2="231.6" stroke="#8a8a8a" stroke-width="0.92" />
<polygon points="444,231.6 448.4,230.45 448.4,232.75" fill="#333"/>
<polygon points="517.3,231.6 512.9,230.45 512.9,232.75" fill="#333"/>
<line x1="517.3" y1="231.6" x2="529.6" y2="231.6" stroke="#8a8a8a" stroke-width="0.92" />
<polygon points="517.3,231.6 521.6999999999999,230.45 521.6999999999999,232.75" fill="#333"/>
<polygon points="529.6,231.6 525.2,230.45 525.2,232.75" fill="#333"/>
<line x1="529.6" y1="231.6" x2="557.3" y2="231.6" stroke="#8a8a8a" stroke-width="0.92" />
<polygon points="529.6,231.6 534.0,230.45 534.0,232.75" fill="#333"/>
<polygon points="557.3,231.6 552.9,230.45 552.9,232.75" fill="#333"/>
<text x="0" y="0" transform="translate(479.6,228.7) scale(1,1.07)" fill="#2a2a2a" stroke="#2a2a2a" stroke-width="0.18" font-size="8.6" text-anchor="middle" dominant-baseline="central">424</text>
<text x="0" y="0" transform="translate(523.6,228.7) scale(1,1.07)" fill="#2a2a2a" stroke="#2a2a2a" stroke-width="0.18" font-size="8.6" text-anchor="middle" dominant-baseline="central">71</text>
<text x="0" y="0" transform="translate(543.8,228.7) scale(1,1.07)" fill="#2a2a2a" stroke="#2a2a2a" stroke-width="0.18" font-size="8.6" text-anchor="middle" dominant-baseline="central">162</text>
<rect x="453.3" y="32.6" width="50.9" height="2.9" stroke="#777" stroke-width="0.80" fill="#c4c4c4" rx="0.8"/>
<line x1="454.6" y1="35.5" x2="454.6" y2="94" stroke="#505050" stroke-width="0.92" />
<line x1="503.5" y1="35.5" x2="503.5" y2="46.3" stroke="#505050" stroke-width="0.92" />
<rect x="461.5" y="47.2" width="6.9" height="22.8" stroke="#444" stroke-width="1.03" fill="none" rx="1.0"/>
<rect x="462.8" y="48.5" width="4.3" height="20.2" stroke="#c8c8c8" stroke-width="0.69" fill="none" rx="0"/>
<line x1="462.0" y1="58.7" x2="467.9" y2="58.7" stroke="#aaa" stroke-width="0.80" />
<rect x="475.2" y="47.2" width="6.9" height="22.8" stroke="#444" stroke-width="1.03" fill="none" rx="1.0"/>
<rect x="476.5" y="48.5" width="4.3" height="20.2" stroke="#c8c8c8" stroke-width="0.69" fill="none" rx="0"/>
<line x1="475.7" y1="58.7" x2="481.59999999999997" y2="58.7" stroke="#aaa" stroke-width="0.80" />
<circle cx="479" cy="82.8" r="1.6" stroke="#505050" stroke-width="0.69" fill="none"/>
<circle cx="502.3" cy="60.9" r="13.4" stroke="#505050" stroke-width="0.92" fill="#fff"/>
<path d="M489.2,66 V48.6 Q489.2,46.3 491.5,46.3 H509" stroke="#505050" stroke-width="0.9" fill="none"/>
<line x1="489.2" y1="53" x2="489.2" y2="64.5" stroke="#333" stroke-width="1.72" />
<circle cx="502.3" cy="60.9" r="2.5" stroke="#333" stroke-width="1.38" fill="none"/>
<rect x="501.3" y="59.6" width="2" height="2.6" stroke="#555" stroke-width="0.57" fill="none" rx="0"/>
<circle cx="497.0" cy="55.0" r="0.9" fill="#444"/>
<circle cx="502.3" cy="54.1" r="0.9" fill="#444"/>
<circle cx="508.7" cy="55.0" r="0.9" fill="#444"/>
<circle cx="497.0" cy="67.3" r="0.9" fill="#444"/>
<circle cx="502.3" cy="68.0" r="0.9" fill="#444"/>
<circle cx="508.7" cy="67.3" r="0.7" fill="#444"/>
<circle cx="507.5" cy="60.9" r="0.8" fill="#444"/>
<line x1="496" y1="60.9" x2="498.5" y2="60.9" stroke="#888" stroke-width="0.69" />
<polyline points="489,63 489,77 487,84 491,84 489,77" stroke="#505050" stroke-width="0.69" fill="none" stroke-linejoin="round"/>
<rect x="487.5" y="87.5" width="4" height="7" stroke="#505050" stroke-width="0.69" fill="#eee" rx="0"/>
<line x1="503.7" y1="74.2" x2="503.7" y2="94" stroke="#666" stroke-width="0.80" />
<line x1="505.3" y1="74.2" x2="505.3" y2="94" stroke="#999" stroke-width="1.15" />
<line x1="509.1" y1="72" x2="509.1" y2="94" stroke="#777" stroke-width="0.69" />
<line x1="511.3" y1="70" x2="511.3" y2="94" stroke="#888" stroke-width="0.69" />
<rect x="512.9" y="44.3" width="17.5" height="141.2" stroke="#888" stroke-width="0.92" fill="#fff" rx="0"/>
<line x1="530.4" y1="44.3" x2="530.4" y2="185.5" stroke="#333" stroke-width="1.26" />
<line x1="526" y1="44.3" x2="526" y2="185.5" stroke="#888" stroke-width="0.69" />
<line x1="524.7" y1="118.9" x2="530.8" y2="118.9" stroke="#505050" stroke-width="0.69" />
<circle cx="527" cy="51.5" r="0.7" fill="#444"/>
<circle cx="521.5" cy="125.8" r="1.3" fill="#444"/>
<circle cx="521.5" cy="174.5" r="1.3" fill="#444"/>
<circle cx="525.3" cy="131" r="0.7" fill="#444"/>
<circle cx="525.3" cy="172.5" r="0.7" fill="#444"/>
<circle cx="450.6" cy="88.7" r="3" stroke="#888" stroke-width="0.92" fill="none"/>
<circle cx="506.4" cy="88.8" r="2.6" stroke="#888" stroke-width="0.92" fill="none"/>
<path d="M446.9,104 V89 Q447,85 450.6,84.6" stroke="#888" stroke-width="0.7" fill="none"/>
<path d="M511.3,94 V89 Q511,85.5 507.5,85.2" stroke="#888" stroke-width="0.7" fill="none"/>
<line x1="446.9" y1="96" x2="454.5" y2="96" stroke="#505050" stroke-width="0.92" />
<line x1="445.8" y1="103.5" x2="445.8" y2="199.5" stroke="#444" stroke-width="1.26" />
<line x1="454.5" y1="93.6" x2="502" y2="93.6" stroke="#505050" stroke-width="1.03" />
<line x1="454.5" y1="96" x2="502" y2="96" stroke="#505050" stroke-width="1.03" />
<line x1="450.3" y1="96" x2="450.3" y2="213" stroke="#8c8c8c" stroke-width="1.03" />
<line x1="452.9" y1="96" x2="452.9" y2="213" stroke="#b4b4b4" stroke-width="1.38" />
<circle cx="454.5" cy="100.2" r="0.7" fill="#444"/>
<circle cx="503.2" cy="100.2" r="0.7" fill="#444"/>
<line x1="475.7" y1="96" x2="475.7" y2="187.5" stroke="#505050" stroke-width="0.92" />
<line x1="481.7" y1="96" x2="481.7" y2="187.5" stroke="#505050" stroke-width="0.92" />
<line x1="504.5" y1="96" x2="504.5" y2="187.5" stroke="#8c8c8c" stroke-width="1.15" />
<line x1="508.1" y1="96" x2="508.1" y2="213" stroke="#8c8c8c" stroke-width="1.15" />
<line x1="512" y1="94" x2="512" y2="213" stroke="#909090" stroke-width="1.15" />
<line x1="453.3" y1="187.3" x2="504.1" y2="187.3" stroke="#505050" stroke-width="0.92" />
<rect x="455.3" y="103.3" width="18.3" height="6" stroke="#777" stroke-width="0.80" fill="none" rx="0"/>
<circle cx="465.2" cy="112.5" r="0.8" stroke="#999" stroke-width="0.69" fill="none"/>
<circle cx="465.2" cy="119" r="1.1" fill="#333"/>
<circle cx="465.2" cy="164.4" r="0.8" stroke="#999" stroke-width="0.69" fill="none"/>
<circle cx="465.2" cy="172.1" r="0.8" stroke="#999" stroke-width="0.69" fill="none"/>
<circle cx="492.5" cy="112.5" r="0.8" stroke="#999" stroke-width="0.69" fill="none"/>
<circle cx="492.5" cy="119" r="1.1" fill="#333"/>
<circle cx="492.5" cy="164.4" r="0.8" stroke="#999" stroke-width="0.69" fill="none"/>
<circle cx="492.5" cy="172.1" r="0.8" stroke="#999" stroke-width="0.69" fill="none"/>
<circle cx="454.6" cy="172.5" r="0.9" fill="#333"/>
<circle cx="502.7" cy="172.5" r="0.9" fill="#333"/>
<line x1="456.7" y1="187.5" x2="456.7" y2="213" stroke="#505050" stroke-width="0.80" />
<line x1="501.7" y1="187.5" x2="501.7" y2="213" stroke="#505050" stroke-width="0.80" />
<circle cx="479.2" cy="200.4" r="12.5" stroke="#505050" stroke-width="0.92" fill="none"/>
<line x1="473" y1="200.4" x2="485.4" y2="200.4" stroke="#777" stroke-width="0.69" />
<line x1="479.2" y1="194.2" x2="479.2" y2="206.6" stroke="#777" stroke-width="0.69" />
<circle cx="437.4" cy="189.1" r="2.2" stroke="#505050" stroke-width="0.80" fill="none"/>
<line x1="439" y1="191" x2="443" y2="197" stroke="#888" stroke-width="0.69" />
<rect x="442.5" y="186.5" width="2.4" height="24" stroke="none" stroke-width="0.00" fill="#d0d0d0" rx="0"/>
<rect x="437.8" y="200.4" width="11.8" height="10.2" stroke="#666" stroke-width="0.80" fill="none" rx="0"/>
<line x1="440.2" y1="200.4" x2="440.2" y2="210.6" stroke="#888" stroke-width="0.69" />
<line x1="446.8" y1="200.4" x2="446.8" y2="210.6" stroke="#888" stroke-width="0.69" />
<line x1="437.8" y1="205" x2="449.6" y2="205" stroke="#aaa" stroke-width="0.57" />
<rect x="438.5" y="210.8" width="4" height="2.4" stroke="#555" stroke-width="0.69" fill="none" rx="0"/>
<rect x="443" y="210.8" width="4" height="2.4" stroke="#555" stroke-width="0.69" fill="none" rx="0"/>
<path d="M435,215.4 Q442.2,212.2 449.6,215.4 Z" fill="#555"/>
<line x1="443.7" y1="211" x2="443.7" y2="220" stroke="#777" stroke-width="0.57" />
<line x1="450.4" y1="186.5" x2="450.4" y2="213" stroke="#999" stroke-width="0.80" />
<line x1="512.2" y1="186.3" x2="525.2" y2="186.3" stroke="#505050" stroke-width="0.80" />
<line x1="512.2" y1="186.3" x2="512.2" y2="200.9" stroke="#505050" stroke-width="0.80" />
<rect x="514.3" y="186.5" width="2.2" height="14.4" stroke="none" stroke-width="0.00" fill="#d0d0d0" rx="0"/>
<line x1="518.3" y1="186.3" x2="518.3" y2="200.9" stroke="#888" stroke-width="0.69" />
<path d="M518.3,187 Q522.8,187 522.8,189.2 Q522.8,191.4 518.3,191.4" stroke="#555" stroke-width="0.7" fill="none"/>
<line x1="525.2" y1="186.3" x2="525.2" y2="193" stroke="#777" stroke-width="0.69" />
<rect x="509.6" y="200.9" width="20" height="11.3" stroke="#555" stroke-width="0.80" fill="none" rx="0"/>
<line x1="516.5" y1="200.9" x2="516.5" y2="212.2" stroke="#666" stroke-width="0.69" />
<line x1="523" y1="200.9" x2="523" y2="212.2" stroke="#666" stroke-width="0.69" />
<line x1="524" y1="200.9" x2="524" y2="212.2" stroke="#888" stroke-width="0.57" />
<path d="M508.7,215.5 Q515.5,212.2 522.2,215.5 Z" fill="#555"/>
<line x1="414.8" y1="118" x2="414.8" y2="186" stroke="#f8d4a8" stroke-width="1.26" />
<line x1="414.8" y1="118" x2="425" y2="118" stroke="#f0a048" stroke-width="1.26" />
<line x1="414.8" y1="185.9" x2="424.5" y2="185.9" stroke="#f0a048" stroke-width="1.38" />
<line x1="424.5" y1="118" x2="424.5" y2="186" stroke="#999" stroke-width="0.69" />
<line x1="424.5" y1="118" x2="433.5" y2="118" stroke="#505050" stroke-width="1.03" />
<line x1="426.8" y1="118" x2="426.8" y2="186.6" stroke="#666" stroke-width="1.26" />
<line x1="433.5" y1="118" x2="433.5" y2="186.6" stroke="#888" stroke-width="0.80" />
<line x1="424.5" y1="186.6" x2="445" y2="186.6" stroke="#777" stroke-width="0.80" />
<line x1="427.5" y1="103.9" x2="427.5" y2="118" stroke="#505050" stroke-width="0.92" />
<line x1="432.4" y1="103.9" x2="432.4" y2="118" stroke="#888" stroke-width="0.80" />
<circle cx="434.4" cy="125.9" r="0.7" fill="#444"/>
<circle cx="432.4" cy="131.8" r="0.8" fill="#444"/>
<circle cx="432.1" cy="173" r="0.8" fill="#444"/>
<line x1="534.2" y1="118.2" x2="534.2" y2="185.8" stroke="#ebb583" stroke-width="1.49" />
<line x1="533.8" y1="118.2" x2="557.4" y2="118.2" stroke="#f3b577" stroke-width="1.15" />
<line x1="533.8" y1="185.8" x2="557.4" y2="185.8" stroke="#f0a048" stroke-width="1.26" />
<line x1="557.4" y1="118.2" x2="557.4" y2="185.8" stroke="#f3d8b8" stroke-width="1.15" />
<line x1="550" y1="118.2" x2="550" y2="185.8" stroke="#f3b87a" stroke-width="1.38" />
<rect x="534.1" y="112.3" width="8.3" height="5.9" stroke="#f3b577" stroke-width="1.03" fill="#fff" rx="1.5"/>
<rect x="535.6" y="114.3" width="4.6" height="3.4" stroke="none" stroke-width="0.00" fill="#f8c48c" rx="0"/>
<line x1="530.4" y1="118.2" x2="533.8" y2="118.2" stroke="#333" stroke-width="0.92" />
<circle cx="557.6" cy="175" r="0.9" fill="#333"/>
</svg></body></html>
